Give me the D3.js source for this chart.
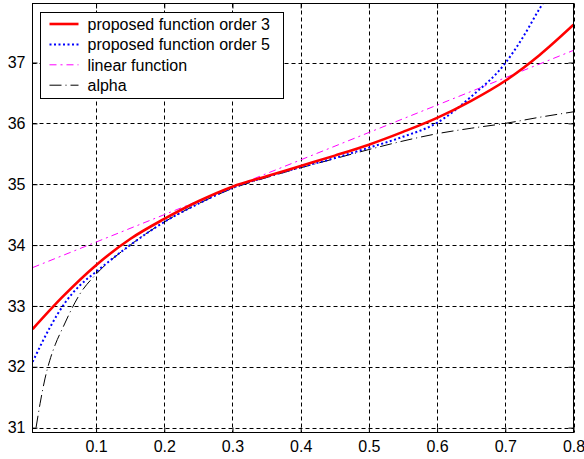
<!DOCTYPE html>
<html>
<head>
<meta charset="utf-8">
<script src="https://cdn.jsdelivr.net/npm/d3@7"></script>
<style>
  body { margin: 0; background: #fff; }
  svg { display: block; font-family: "Liberation Sans", Arial, sans-serif; }
</style>
</head>
<body>
<svg id="chart" width="584" height="459"></svg>
<script>
// tick values
const xTicks = [0.1, 0.2, 0.3, 0.4, 0.5, 0.6, 0.7, 0.8];
const yTicks = [31, 32, 33, 34, 35, 36, 37];

// proposed function order 3 (red)
const order3X = [0.007, 0.05, 0.1, 0.15, 0.2, 0.25, 0.3, 0.35, 0.4, 0.45, 0.5, 0.55, 0.6, 0.65, 0.7, 0.75, 0.8];
const order3Y = [32.62, 33.14, 33.67, 34.1, 34.43, 34.72, 34.96, 35.13, 35.3, 35.47, 35.65, 35.86, 36.09, 36.37, 36.7, 37.12, 37.62];

// proposed function order 5 (blue)
const order5X = [0.007, 0.02, 0.0325, 0.055, 0.0765, 0.1, 0.15, 0.2, 0.25, 0.3, 0.35, 0.4, 0.45, 0.5, 0.55, 0.6, 0.65, 0.7, 0.725, 0.75, 0.765];
const order5Y = [32.08, 32.38, 32.65, 33.06, 33.34, 33.56, 34.0, 34.38, 34.68, 34.94, 35.12, 35.28, 35.43, 35.6, 35.78, 36.01, 36.44, 36.99, 37.4, 37.88, 38.15];

// linear function (magenta)
const linearX = [0.007, 0.2, 0.4, 0.6, 0.8];
const linearY = [33.63, 34.5, 35.4, 36.3, 37.2];

// alpha (black)
const alphaX = [0.012, 0.018, 0.025, 0.032, 0.04, 0.052, 0.062, 0.0765, 0.1, 0.15, 0.2, 0.25, 0.3, 0.35, 0.4, 0.45, 0.5, 0.55, 0.6, 0.65, 0.7, 0.75, 0.8];
const alphaY = [31.0, 31.4, 31.8, 32.1, 32.36, 32.66, 32.9, 33.2, 33.52, 34.0, 34.38, 34.68, 34.93, 35.11, 35.27, 35.42, 35.57, 35.71, 35.83, 35.92, 36.0, 36.1, 36.19];

const legendLabels = ["proposed function order 3", "proposed function order 5", "linear function", "alpha"];

const series = [
  { label: legendLabels[0], xs: order3X, ys: order3Y, color: "#ff0000", width: 2.6, dash: null },
  { label: legendLabels[1], xs: order5X, ys: order5Y, color: "#0000ff", width: 2, dash: "2,2.5" },
  { label: legendLabels[2], xs: linearX, ys: linearY, color: "#ff00ff", width: 1, dash: "7,4,2,4" },
  { label: legendLabels[3], xs: alphaX, ys: alphaY, color: "#000000", width: 1, dash: "12,4,1,4" }
];

const svg = d3.select("#chart");
const plotLeft = 32.5, plotRight = 573.5, plotTop = 3.5, plotBottom = 432.5;

const x = d3.scaleLinear().domain([0.0068, 0.8]).range([plotLeft, plotRight]);
const y = d3.scaleLinear().domain([30.92, 37.97]).range([plotBottom, plotTop]);

// grid
const grid = svg.append("g")
  .attr("stroke", "#000")
  .attr("stroke-width", 1)
  .attr("stroke-dasharray", "4,3");
grid.selectAll("line.vx").data(xTicks).join("line")
  .attr("x1", d => Math.round(x(d)) + 0.5).attr("x2", d => Math.round(x(d)) + 0.5)
  .attr("y1", plotTop).attr("y2", plotBottom);
grid.selectAll("line.hy").data(yTicks).join("line")
  .attr("y1", d => Math.round(y(d)) + 0.5).attr("y2", d => Math.round(y(d)) + 0.5)
  .attr("x1", plotLeft).attr("x2", plotRight);

// clip for curves
svg.append("clipPath").attr("id", "clip")
  .append("rect").attr("x", plotLeft).attr("y", plotTop)
  .attr("width", plotRight - plotLeft).attr("height", plotBottom - plotTop);

const line = d3.line()
  .x(d => x(d[0]))
  .y(d => y(d[1]))
  .curve(d3.curveMonotoneX);

const curves = svg.append("g").attr("clip-path", "url(#clip)");
// alpha and linear first, then order 5, then order 3 on top
[series[3], series[2], series[1], series[0]].forEach(s => {
  curves.append("path")
    .datum(d3.zip(s.xs, s.ys))
    .attr("d", line)
    .attr("fill", "none")
    .attr("stroke", s.color)
    .attr("stroke-width", s.width)
    .attr("stroke-dasharray", s.dash);
});

// axes (ticks pointing inwards, box on)
const fmtX = d3.format(".1f");
svg.append("g").attr("transform", `translate(0,${plotBottom})`)
  .call(d3.axisBottom(x).tickValues(xTicks).tickFormat(fmtX).tickSizeInner(-5).tickSizeOuter(0).tickPadding(8))
  .call(g => g.select(".domain").remove())
  .call(g => g.selectAll("text").attr("font-size", 16).attr("fill", "#000").attr("font-family", "Liberation Sans, Arial, sans-serif"));
svg.append("g").attr("transform", `translate(0,${plotTop})`)
  .call(d3.axisTop(x).tickValues(xTicks).tickFormat("").tickSizeInner(-5).tickSizeOuter(0))
  .call(g => g.select(".domain").remove());
svg.append("g").attr("transform", `translate(${plotLeft},0)`)
  .call(d3.axisLeft(y).tickValues(yTicks).tickFormat(d3.format("d")).tickSizeInner(-5).tickSizeOuter(0).tickPadding(7))
  .call(g => g.select(".domain").remove())
  .call(g => g.selectAll("text").attr("font-size", 16).attr("fill", "#000").attr("font-family", "Liberation Sans, Arial, sans-serif"));
svg.append("g").attr("transform", `translate(${plotRight},0)`)
  .call(d3.axisRight(y).tickValues(yTicks).tickFormat("").tickSizeInner(-5).tickSizeOuter(0))
  .call(g => g.select(".domain").remove());

svg.append("rect")
  .attr("x", plotLeft).attr("y", plotTop)
  .attr("width", plotRight - plotLeft).attr("height", plotBottom - plotTop)
  .attr("fill", "none").attr("stroke", "#000").attr("stroke-width", 1);

// legend
const legend = svg.append("g").attr("transform", "translate(40.5,12.5)");
legend.append("rect")
  .attr("width", 243).attr("height", 86)
  .attr("fill", "#fff").attr("stroke", "#000").attr("stroke-width", 1);
series.forEach((s, i) => {
  const row = legend.append("g").attr("transform", `translate(0,${11.5 + i * 20.4})`);
  row.append("line")
    .attr("x1", 9).attr("x2", 38).attr("y1", 0).attr("y2", 0)
    .attr("stroke", s.color).attr("stroke-width", s.width)
    .attr("stroke-dasharray", s.dash);
  row.append("text")
    .attr("x", 47).attr("y", 0).attr("dy", "0.36em")
    .attr("font-size", 16).attr("fill", "#000")
    .text(s.label);
});
</script>
</body>
</html>
